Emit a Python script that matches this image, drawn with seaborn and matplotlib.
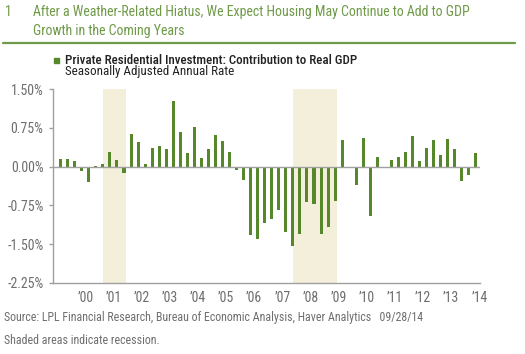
import numpy as np
import pandas as pd
import matplotlib
matplotlib.use("Agg")
import matplotlib.pyplot as plt
import seaborn as sns
from matplotlib import font_manager

# Quarterly contribution of private residential investment to real GDP (%, SAAR)
quarters = [str(p) for p in pd.period_range("1999Q3", "2014Q2", freq="Q")]
contribution = [
    0.14, 0.14, 0.10, -0.09, -0.30, 0.02, 0.06, 0.28, 0.12, -0.12,
    0.64, 0.48, 0.06, 0.37, 0.39, 0.34, 1.27, 0.67, 0.27, 0.76,
    0.16, 0.35, 0.61, 0.49, 0.28, -0.06, -0.25, -1.33, -1.40, -1.10,
    -1.01, -0.84, -1.27, -1.54, -1.31, -0.68, -0.72, -1.31, -1.17, -0.66,
    0.51, 0.00, -0.36, 0.56, -0.95, 0.19, -0.01, 0.13, 0.19, 0.28,
    0.59, 0.10, 0.36, 0.51, 0.22, 0.53, 0.34, -0.27, -0.17, 0.27,
]
recessions = [("2001Q1", "2001Q4"), ("2007Q4", "2009Q2")]
year_labels = ["\u2019%02d" % (y % 100) for y in range(2000, 2015)]
y_ticks = [1.5, 0.75, 0.0, -0.75, -1.5, -2.25]

GREEN = "#56872a"
TITLE_GREEN = "#6f9a48"
BEIGE = "#f3efdb"
GREY = "#6e6e6e"
AXIS_GREY = "#a0a0a0"

sns.set_style("white")

# pick a narrow font if one is around
fonts = font_manager.fontManager.ttflist
names = {f.name for f in fonts}
narrow = [n for n in ["Roboto Condensed", "Liberation Sans Narrow", "Open Sans Condensed"] if n in names]
plt.rcParams["font.family"] = narrow + ["DejaVu Sans"]
if not narrow and any(f.name == "DejaVu Sans" and f.stretch == "condensed" for f in fonts):
    plt.rcParams["font.stretch"] = "condensed"

fig = plt.figure(figsize=(5.25, 3.54), dpi=100)
ax = fig.add_axes([0.1015, 0.2014, 0.8125, 0.5466])
renderer = fig.canvas.get_renderer()


def fit_text(x, y, s, width_px, **kw):
    # shrink/grow the font so the line spans about as wide as in the source
    t = fig.text(x / 525, 1 - y / 354, s, va="center", **kw)
    w = t.get_window_extent(renderer).width
    t.set_fontsize(t.get_fontsize() * width_px / w)
    return t


df = pd.DataFrame({"quarter": quarters, "value": contribution})
sns.barplot(data=df, x="quarter", y="value", color=GREEN, saturation=1,
            width=0.43, linewidth=0, ax=ax)

for start, end in recessions:
    ax.axvspan(quarters.index(start), quarters.index(end) + 0.3,
               color=BEIGE, zorder=0, lw=0)

ax.axhline(0, color=AXIS_GREY, lw=1, zorder=1)
ax.set_xlim(-1.05, len(quarters) - 0.43)
ax.set_ylim(-2.25, 1.5)

tick_pos = [quarters.index("%dQ2" % y) + 0.5 for y in range(2000, 2015)]
ax.set_xticks(tick_pos)
ax.set_xticklabels(year_labels)
ax.set_yticks(y_ticks)
ax.set_yticklabels(["%.2f%%" % v for v in y_ticks])
ax.tick_params(axis="x", length=0, pad=6, labelsize=10, colors=GREY)
ax.tick_params(axis="y", length=3, width=1, color=AXIS_GREY, pad=4,
               labelsize=10, labelcolor=GREY, left=True)
ax.set_xlabel("")
ax.set_ylabel("")
for side in ["top", "right"]:
    ax.spines[side].set_visible(False)
for side in ["left", "bottom"]:
    ax.spines[side].set_color(AXIS_GREY)
    ax.spines[side].set_linewidth(1)

# title block
t1 = fit_text(33, 12, "After a Weather-Related Hiatus, We Expect Housing May Continue to Add to GDP",
              437, color=TITLE_GREEN, fontsize=10)
fig.text(5 / 525, 1 - 12 / 354, "1", color=TITLE_GREEN, fontsize=t1.get_fontsize(), va="center")
fig.text(33 / 525, 1 - 31 / 354, "Growth in the Coming Years",
         color=TITLE_GREEN, fontsize=t1.get_fontsize(), va="center")
fig.add_artist(plt.Line2D([3 / 525, 515 / 525], [1 - 42.5 / 354] * 2,
                          color=TITLE_GREEN, lw=1.6))

# legend
fig.patches.append(plt.Rectangle((54 / 525, 1 - 63 / 354), 5 / 525, 5 / 354,
                                 transform=fig.transFigure, color=GREEN))
lg = fit_text(65, 60, "Private Residential Investment: Contribution to Real GDP",
              293, color="#222222", fontsize=9, weight="medium")
fig.text(65 / 525, 1 - 72 / 354, "Seasonally Adjusted Annual Rate",
         color="#222222", fontsize=lg.get_fontsize(), va="center")

# footnotes
src = fit_text(4, 317,
               "Source: LPL Financial Research, Bureau of Economic Analysis, Haver Analytics   09/28/14",
               419, color=GREY, fontsize=9)
fig.text(4 / 525, 1 - 341 / 354, "Shaded areas indicate recession.",
         color=GREY, fontsize=src.get_fontsize(), va="center")

fig.savefig("out.png", dpi=100)
